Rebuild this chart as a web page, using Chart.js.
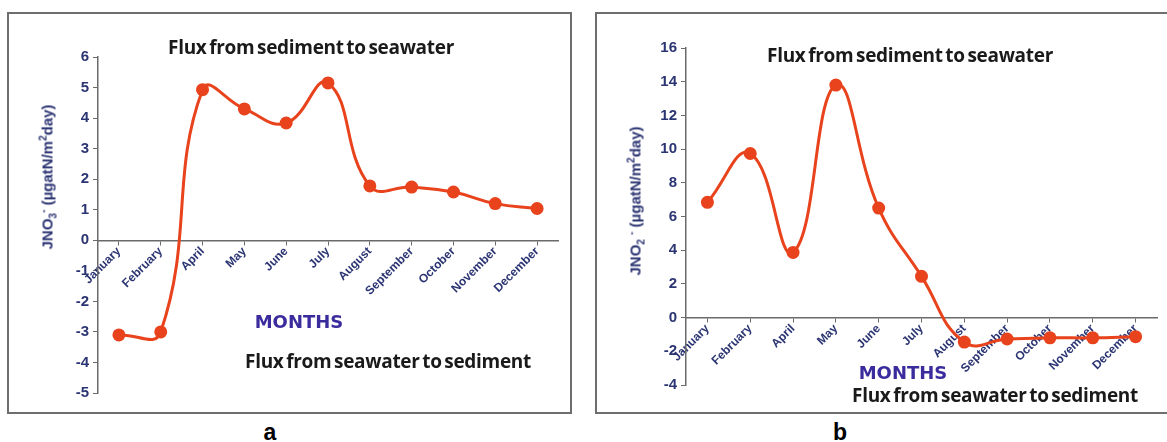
<!DOCTYPE html>
<html>
<head>
<meta charset="utf-8">
<script src="https://cdn.jsdelivr.net/npm/chart.js@4/dist/chart.umd.min.js"></script>
<style>
  body { margin: 0; background: #fff; width: 1167px; height: 442px; overflow: hidden; position: relative; font-family: "Liberation Sans", Arial, sans-serif; }
  .frame { position: absolute; border: 2px solid #6e6e6e; box-sizing: border-box; }
  canvas { position: absolute; }
  .txt { position: absolute; transform: translate(-50%, -50%); white-space: nowrap; }
  .flux { font-family: "Open Sans", sans-serif; font-weight: 700; font-size: 19px; color: #1a1a1a; letter-spacing: -0.3px; word-spacing: -2px; }
  .months { font-family: "DejaVu Sans", sans-serif; font-weight: 700; font-size: 18px; color: #3b2c9e; }
  .ytitle { font-weight: 700; font-size: 15px; color: #2c3573; transform: translate(-50%, -50%) rotate(-90deg); }
  .ytitle sub, .ytitle sup { font-size: 10px; }
  .panel { font-weight: 700; font-size: 23px; color: #000; }
</style>
</head>
<body>
<div class="frame" style="left:7px; top:12px; width:565px; height:402px;"></div>
<div class="frame" style="left:595px; top:12px; width:600px; height:402px;"></div>

<canvas id="chartA" width="564" height="401" style="left:7px; top:12px;"></canvas>
<canvas id="chartB" width="572" height="401" style="left:595px; top:12px;"></canvas>

<div class="txt flux" style="left:311px; top:47px;">Flux from sediment to seawater</div>
<div class="txt months" style="left:299px; top:321px;">MONTHS</div>
<div class="txt flux" style="left:388px; top:361px;">Flux from seawater to sediment</div>
<div class="txt ytitle" style="left:48px; top:177px;">JNO<sub>3</sub><sup>-</sup> (µgatN/m<sup>2</sup>day)</div>
<div class="txt panel" style="left:270px; top:432px;">a</div>

<div class="txt flux" style="left:910px; top:55px;">Flux from sediment to seawater</div>
<div class="txt months" style="left:903px; top:372px;">MONTHS</div>
<div class="txt flux" style="left:995px; top:395px;">Flux from seawater to sediment</div>
<div class="txt ytitle" style="left:636px; top:201px;">JNO<sub>2</sub> <sup>-</sup> (µgatN/m<sup>2</sup>day)</div>
<div class="txt panel" style="left:840px; top:432px;">b</div>

<script>
// months shown on both charts (no March in the source figure)
const months = ['January', 'February', 'April', 'May', 'June', 'July', 'August',
                'September', 'October', 'November', 'December'];

// a: nitrate flux JNO3-
const nitrateFlux = [-3.1, -3.0, 4.93, 4.3, 3.84, 5.15, 1.78, 1.74, 1.58, 1.2, 1.04];
// b: nitrite flux JNO2-
const nitriteFlux = [6.84, 9.74, 3.87, 13.8, 6.5, 2.45, -1.45, -1.27, -1.2, -1.2, -1.13];

const RED = '#e8431c';
const AXIS = '#6a6a6a';
const NAVY = '#2c3573';

function makeChart(id, values, yMin, yMax, yStep, pad) {
  new Chart(document.getElementById(id), {
    type: 'line',
    data: {
      labels: months,
      datasets: [{
        data: values,
        borderColor: RED,
        backgroundColor: RED,
        borderWidth: 3,
        pointRadius: 6.5,
        pointHoverRadius: 6.5,
        pointBorderWidth: 0,
        tension: 0.45,
        clip: false
      }]
    },
    options: {
      responsive: false,
      animation: false,
      layout: { padding: pad },
      plugins: { legend: { display: false }, tooltip: { enabled: false } },
      scales: {
        x: {
          axis: 'x',
          position: { y: 0 },
          offset: true,
          grid: { drawOnChartArea: false, tickLength: 4, color: AXIS, lineWidth: 1 },
          border: { color: AXIS, width: 1.5 },
          ticks: {
            autoSkip: false, minRotation: 45, maxRotation: 45, padding: 0,
            color: NAVY,
            font: { family: 'Liberation Sans', size: 12, weight: 'bold' }
          }
        },
        y: {
          min: yMin, max: yMax,
          grid: { drawOnChartArea: false, tickLength: 5, color: AXIS, lineWidth: 1 },
          border: { color: AXIS, width: 1.5 },
          ticks: {
            stepSize: yStep, padding: 4,
            color: NAVY,
            font: { family: 'Liberation Sans', size: 15, weight: 'bold' }
          },
          afterFit(scale) { scale.width = 91; }
        }
      }
    }
  });
}

makeChart('chartA', nitrateFlux, -5, 6, 1, { left: 0, right: 13, top: 45, bottom: 20 });
makeChart('chartB', nitriteFlux, -4, 16, 2, { left: 0, right: 10, top: 36, bottom: 28 });
</script>
</body>
</html>
